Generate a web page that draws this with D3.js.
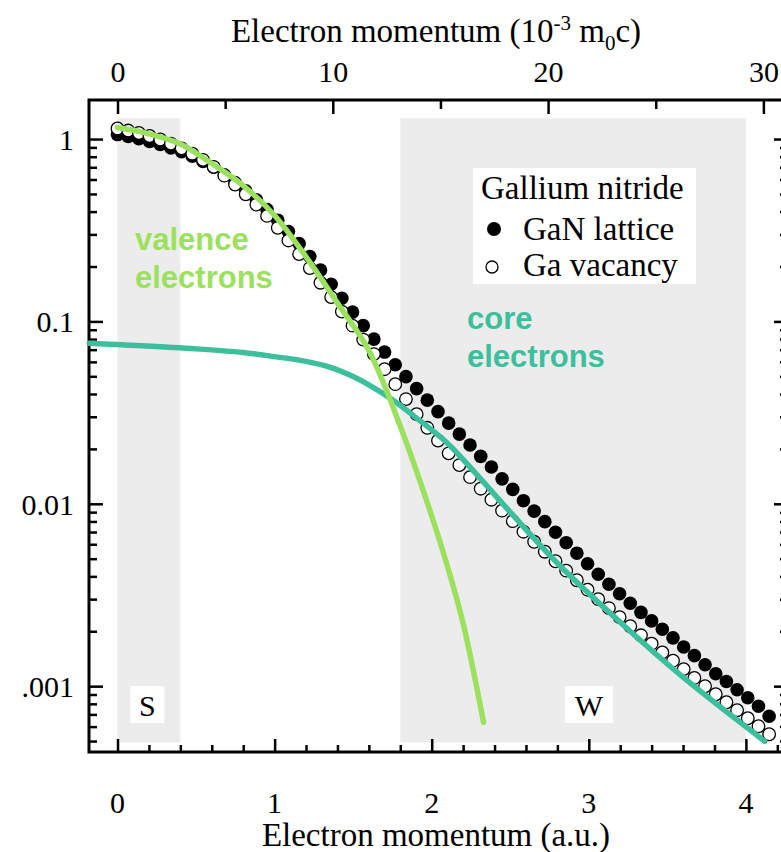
<!DOCTYPE html>
<meta charset="utf-8">
<head>
<style>
  body { margin: 0; background: #fff; }
  svg { display: block; }
</style>
</head>
<div id="chart"></div>
<script src="https://d3js.org/d3.v7.min.js"></script>
<script>

// measured Compton profile points, momentum in a.u.
var momentum = [
  0, 0.068, 0.136, 0.204, 0.272, 0.340, 0.408, 0.476, 0.544, 0.612,
  0.680, 0.748, 0.816, 0.884, 0.952, 1.020, 1.088, 1.156, 1.224, 1.292,
  1.360, 1.428, 1.496, 1.564, 1.632, 1.700, 1.768, 1.836, 1.904, 1.972,
  2.040, 2.108, 2.176, 2.244, 2.312, 2.380, 2.448, 2.516, 2.584, 2.652,
  2.720, 2.788, 2.856, 2.924, 2.992, 3.060, 3.128, 3.196, 3.264, 3.332,
  3.400, 3.468, 3.536, 3.604, 3.672, 3.740, 3.808, 3.876, 3.944, 4.012,
  4.080, 4.148];

var ganLattice = [
  1.058, 1.032, 1.003, 0.969, 0.933, 0.894, 0.851, 0.804, 0.754, 0.700,
  0.636, 0.577, 0.520, 0.464, 0.410, 0.359, 0.311, 0.267, 0.227, 0.191,
  0.160, 0.134, 0.1125, 0.0948, 0.0800, 0.0679, 0.0579, 0.0498, 0.0428, 0.0370,
  0.0320, 0.0277, 0.0241, 0.0210, 0.0182, 0.0159, 0.0137, 0.0120, 0.0104, 0.00911,
  0.00798, 0.00698, 0.00612, 0.00536, 0.00469, 0.00411, 0.00362, 0.00321, 0.00285, 0.00254,
  0.00228, 0.00205, 0.00184, 0.00164, 0.00147, 0.00131, 0.00117, 0.00106, 0.000955, 0.000864,
  0.000776, 0.000684];

var gaVacancy = [
  1.142, 1.113, 1.079, 1.039, 0.994, 0.944, 0.889, 0.831, 0.769, 0.704,
  0.630, 0.563, 0.498, 0.437, 0.379, 0.326, 0.278, 0.234, 0.196, 0.163,
  0.136, 0.1132, 0.0948, 0.0795, 0.0662, 0.0547, 0.0453, 0.0375, 0.0310, 0.0261,
  0.0222, 0.0189, 0.0163, 0.0140, 0.0121, 0.01053, 0.00917, 0.00803, 0.00703, 0.00619,
  0.00546, 0.00484, 0.00430, 0.00381, 0.00338, 0.00300, 0.00268, 0.00239, 0.00213, 0.00190,
  0.00171, 0.00153, 0.00138, 0.00124, 0.00111, 0.000999, 0.000903, 0.000816, 0.000738, 0.000667,
  0.000603, 0.000545];

// calculated contributions
var valenceP = [0, 0.2, 0.4, 0.6, 0.8, 1.0, 1.2, 1.4, 1.6, 1.8, 2.0, 2.1, 2.2, 2.33];
var valenceJ = [1.156, 1.068, 0.939, 0.734, 0.556, 0.381, 0.226, 0.126, 0.0692, 0.0266, 0.00857, 0.00455, 0.00221, 0.000634];

var coreP = [-0.18, 0, 0.5, 0.8, 1.0, 1.2, 1.35, 1.5, 1.6, 1.75, 1.9, 2.1, 2.25, 2.5, 2.8, 3.2, 3.6, 4.12];
var coreJ = [0.0760, 0.0746, 0.0707, 0.0675, 0.0641, 0.0604, 0.0562, 0.0499, 0.0449, 0.0372, 0.0297, 0.0215, 0.01568, 0.00899, 0.00472, 0.00224, 0.00112, 0.000499];

// S and W parameter windows
var windows = [
  { name: "S", from: 0, to: 0.4, labelAt: 0.19 },
  { name: "W", from: 1.8, to: 4.0, labelAt: 3.0 }
];
var windowTop = 1.30, windowBottom = 0.000492;

var bottomTicks = [0, 1, 2, 3, 4];
var topTicks = [0, 10, 20, 30];
var yTicks = [1, 0.1, 0.01, 0.001];
var yTickLabels = ["1", "0.1", "0.01", "0.001"];

var auToMilli = 7.297;   // 1 a.u. = 7.297e-3 m0c

var width = 781, height = 852;
var x0 = 89, x1 = 788, y0 = 100, y1 = 752;
var green = "#9be15d", teal = "#3cbf9c";
var serif = "Liberation Serif, Times New Roman, serif";
var sans = "Liberation Sans, Arial, sans-serif";

var svg = d3.select("#chart").append("svg")
  .attr("width", width)
  .attr("height", height);

svg.append("defs").append("clipPath").attr("id", "crop")
  .append("rect").attr("x", 22).attr("y", 0).attr("width", width).attr("height", height);

var g = svg.append("g").attr("clip-path", "url(#crop)");

var x = d3.scaleLinear().domain([-0.1815, 4.268]).range([x0, x1]);
var xTop = d3.scaleLinear().domain(x.domain().map(function(d) { return d * auToMilli; })).range([x0, x1]);
var y = d3.scaleLog().domain([1.637, 0.0004355]).range([y0, y1]);

// shaded windows
g.selectAll(".win").data(windows).enter().append("rect")
  .attr("x", function(d) { return x(d.from); })
  .attr("width", function(d) { return x(d.to) - x(d.from); })
  .attr("y", y(windowTop))
  .attr("height", y(windowBottom) - y(windowTop))
  .attr("fill", "#ececec");

var winLabel = g.selectAll(".winlabel").data(windows).enter().append("g");
winLabel.append("rect")
  .attr("x", function(d) { return x(d.labelAt) - (d.name == "W" ? 24 : 17); })
  .attr("width", function(d) { return d.name == "W" ? 48 : 34; })
  .attr("y", 686).attr("height", 37)
  .attr("fill", "#fff");
winLabel.append("text")
  .attr("x", function(d) { return x(d.labelAt); })
  .attr("y", 716)
  .attr("text-anchor", "middle")
  .style("font-family", serif)
  .style("font-size", "30px")
  .text(function(d) { return d.name; });

// legend box
g.append("rect").attr("x", 473).attr("y", 168).attr("width", 223).attr("height", 116).attr("fill", "#fff");

// axes
function styleAxis(sel) {
  sel.select(".domain").remove();
  sel.selectAll(".tick line").attr("stroke", "#000").attr("stroke-width", 2.5);
  sel.selectAll(".tick text").style("font-family", serif).style("font-size", "30px").attr("fill", "#000");
}

var minorY = [];
[0.0001, 0.001, 0.01, 0.1, 1].forEach(function(dec) {
  for (var k = 2; k <= 9; k++) {
    var v = dec * k;
    if (v < 1.637 && v > 0.0004355) minorY.push(v);
  }
});
var minorX = d3.range(-0.2, 4.21, 0.2).filter(function(v) { return v > -0.18 && Math.abs(v - Math.round(v)) > 0.01; });

g.append("g").attr("transform", "translate(" + x0 + ",0)")
  .call(d3.axisLeft(y).tickValues(minorY).tickSize(-8).tickFormat(""))
  .call(styleAxis);
g.append("g").attr("transform", "translate(" + x0 + ",0)")
  .call(d3.axisLeft(y).tickValues(yTicks).tickSize(-14)
    .tickFormat(function(d, i) { return yTickLabels[i]; }))
  .call(styleAxis)
  .selectAll(".tick text").attr("x", -15).attr("dy", "0.35em");

g.append("g").attr("transform", "translate(" + x1 + ",0)")
  .call(d3.axisRight(y).tickValues(minorY).tickSize(-8).tickFormat(""))
  .call(styleAxis);
g.append("g").attr("transform", "translate(" + x1 + ",0)")
  .call(d3.axisRight(y).tickValues(yTicks).tickSize(-14).tickFormat(""))
  .call(styleAxis);

g.append("g").attr("transform", "translate(0," + y1 + ")")
  .call(d3.axisBottom(x).tickValues(minorX).tickSize(-7).tickFormat(""))
  .call(styleAxis);
g.append("g").attr("transform", "translate(0," + y1 + ")")
  .call(d3.axisBottom(x).tickValues(bottomTicks).tickSize(-13).tickFormat(""))
  .call(styleAxis);

// bottom tick labels placed under the ticks
g.append("g").selectAll("text").data(bottomTicks).enter().append("text")
  .attr("x", function(d) { return x(d); })
  .attr("y", 813)
  .attr("text-anchor", "middle")
  .style("font-family", serif).style("font-size", "30px")
  .text(function(d) { return d; });

g.append("g").attr("transform", "translate(0," + y0 + ")")
  .call(d3.axisTop(xTop).tickValues([5, 15, 25]).tickSize(-9).tickFormat(""))
  .call(styleAxis);
g.append("g").attr("transform", "translate(0," + y0 + ")")
  .call(d3.axisTop(xTop).tickValues(topTicks).tickSize(-14).tickFormat(d3.format("d")))
  .call(styleAxis)
  .selectAll(".tick text").attr("y", -18).attr("dy", 0);

// frame
g.append("rect").attr("x", x0).attr("y", y0).attr("width", x1 - x0).attr("height", y1 - y0)
  .attr("fill", "none").attr("stroke", "#000").attr("stroke-width", 3);

// data points
var lattice = momentum.map(function(p, i) { return [p, ganLattice[i]]; });
var vacancy = momentum.map(function(p, i) { return [p, gaVacancy[i]]; });

g.append("g").selectAll("circle").data(lattice).enter().append("circle")
  .attr("cx", function(d) { return x(d[0]); })
  .attr("cy", function(d) { return y(d[1]); })
  .attr("r", 6.8)
  .attr("fill", "#000");

g.append("g").selectAll("circle").data(vacancy).enter().append("circle")
  .attr("cx", function(d) { return x(d[0]); })
  .attr("cy", function(d) { return y(d[1]); })
  .attr("r", 6.3)
  .attr("fill", "#fff")
  .attr("stroke", "#000")
  .attr("stroke-width", 1.3);

// valence and core curves
var line = d3.line()
  .x(function(d) { return x(d[0]); })
  .y(function(d) { return y(d[1]); })
  .curve(d3.curveCatmullRom.alpha(0.5));

g.append("path")
  .datum(coreP.map(function(p, i) { return [p, coreJ[i]]; }))
  .attr("d", line)
  .attr("fill", "none").attr("stroke", teal).attr("stroke-width", 5.5).attr("stroke-linecap", "round");

g.append("path")
  .datum(valenceP.map(function(p, i) { return [p, valenceJ[i]]; }))
  .attr("d", line)
  .attr("fill", "none").attr("stroke", green).attr("stroke-width", 5.5).attr("stroke-linecap", "round");

// curve labels
var valenceText = g.append("text").attr("x", 135).attr("y", 250)
  .style("font-family", sans).style("font-size", "31px").style("font-weight", "bold").attr("fill", green);
valenceText.append("tspan").attr("x", 135).text("valence");
valenceText.append("tspan").attr("x", 135).attr("dy", 38).text("electrons");

var coreText = g.append("text").attr("x", 467).attr("y", 329)
  .style("font-family", sans).style("font-size", "31px").style("font-weight", "bold").attr("fill", teal);
coreText.append("tspan").attr("x", 467).text("core");
coreText.append("tspan").attr("x", 467).attr("dy", 38).text("electrons");

// legend
var leg = g.append("g").style("font-family", serif).style("font-size", "33px");
leg.append("text").attr("x", 481).attr("y", 199).text("Gallium nitride");
leg.append("circle").attr("cx", 494).attr("cy", 229).attr("r", 7).attr("fill", "#000");
leg.append("text").attr("x", 523).attr("y", 240).text("GaN lattice");
leg.append("circle").attr("cx", 492).attr("cy", 267).attr("r", 6).attr("fill", "#fff").attr("stroke", "#000").attr("stroke-width", 1.3);
leg.append("text").attr("x", 523).attr("y", 276).text("Ga vacancy");

// axis titles
g.append("text").attr("x", 436).attr("y", 846).attr("text-anchor", "middle")
  .style("font-family", serif).style("font-size", "33px")
  .text("Electron momentum (a.u.)");

var topTitle = g.append("text").attr("x", 436).attr("y", 42).attr("text-anchor", "middle")
  .style("font-family", serif).style("font-size", "33px");
topTitle.append("tspan").text("Electron momentum (10");
topTitle.append("tspan").attr("dy", -12).style("font-size", "21px").text("-3");
topTitle.append("tspan").attr("dy", 12).text(" m");
topTitle.append("tspan").attr("dy", 8).style("font-size", "21px").text("0");
topTitle.append("tspan").attr("dy", -8).text("c)");

</script>
